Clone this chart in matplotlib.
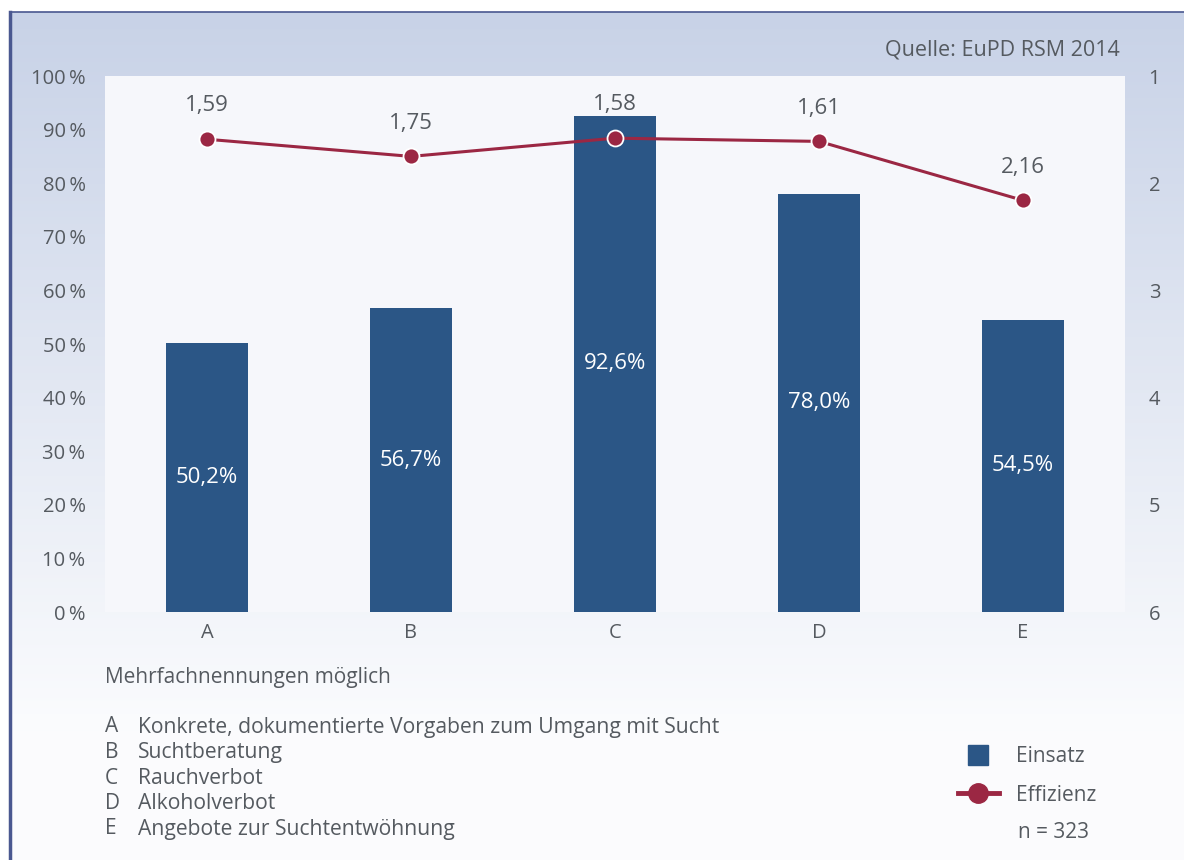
import numpy as np
import matplotlib
matplotlib.use('Agg')
from matplotlib import pyplot as plt
from matplotlib.lines import Line2D

plt.rcParams['font.family'] = ['Open Sans', 'DejaVu Sans']

# Daten
kategorien = ['A', 'B', 'C', 'D', 'E']
einsatz = [50.2, 56.7, 92.6, 78.0, 54.5]          # Prozent
effizienz = [1.59, 1.75, 1.58, 1.61, 2.16]        # Schulnote 1-6
beschreibung = ['Konkrete, dokumentierte Vorgaben zum Umgang mit Sucht',
                'Suchtberatung',
                'Rauchverbot',
                'Alkoholverbot',
                'Angebote zur Suchtentwöhnung']
links_ticks = [0, 10, 20, 30, 40, 50, 60, 70, 80, 90, 100]
rechts_ticks = [1, 2, 3, 4, 5, 6]

blau = '#2b5686'
rot = '#9b2743'
grau = '#555a60'

W, H = 1184, 860
fig = plt.figure(figsize=(W/100, H/100), dpi=100)

# Hintergrund mit Verlauf
bg = fig.add_axes([0, 0, 1, 1])
bg.set_xlim(0, W); bg.set_ylim(H, 0); bg.axis('off')
grad = np.linspace(0, 1, 256).reshape(-1, 1)
top_c = np.array([0.784, 0.824, 0.906])
bot_c = np.array([0.985, 0.988, 0.995])
t = np.clip(grad / 0.85, 0, 1)
img = top_c + (bot_c - top_c) * t[..., None]
bg.imshow(img, extent=[10, W, H, 12], aspect='auto', zorder=0)
bg.plot([10, 10], [12, H], color='#4a5890', lw=2.5, zorder=2)
bg.plot([10, W], [12, 12], color='#4a5890', lw=1.2, zorder=2)

# Hauptdiagramm
ax = fig.add_axes([105/W, 1-612/H, 1020/W, 536/H])
ax.set_facecolor('#f6f7fb')
x = np.arange(len(kategorien))
bars = ax.bar(x, einsatz, width=0.4, color=blau, zorder=2)
ax.set_xlim(-0.5, 4.5)
ax.set_ylim(0, 100)
ax.set_yticks(links_ticks)
ax.set_yticklabels(['%d\u2009%%' % v for v in links_ticks])
ax.set_xticks(x)
ax.set_xticklabels(kategorien)
for s in ax.spines.values():
    s.set_visible(False)
ax.tick_params(length=0, colors=grau, labelsize=14.5)
ax.tick_params(axis='y', pad=14)
ax.tick_params(axis='x', pad=8)

for xi, v in zip(x, einsatz):
    ax.text(xi, v/2, ('%.1f%%' % v).replace('.', ','), ha='center', va='center',
            color='white', fontsize=16, zorder=3)

ax2 = ax.twinx()
ax2.set_ylim(6, 1)
ax2.set_yticks(rechts_ticks)
for s in ax2.spines.values():
    s.set_visible(False)
ax2.tick_params(length=0, colors=grau, labelsize=14.5, pad=17)
line, = ax2.plot(x, effizienz, color=rot, lw=2.2, marker='o', markersize=11.5,
                 markerfacecolor=rot, markeredgecolor='white', markeredgewidth=1.3,
                 zorder=4)
for xi, v in zip(x, effizienz):
    ax2.annotate(('%.2f' % v).replace('.', ','), (xi, v), xytext=(0, 24),
                 textcoords='offset points', ha='center', va='center',
                 color=grau, fontsize=16)

# Texte
fig.text(1120/W, 1-50/H, 'Quelle: EuPD RSM 2014', ha='right', va='center',
         color=grau, fontsize=15.5)
fig.text(105/W, 1-677/H, 'Mehrfachnennungen möglich', ha='left', va='center',
         color=grau, fontsize=15)
for i, (k, b) in enumerate(zip(kategorien, beschreibung)):
    yy = 1 - (727 + i*25.5)/H
    fig.text(105/W, yy, k, ha='left', va='center', color=grau, fontsize=15)
    fig.text(138/W, yy, b, ha='left', va='center', color=grau, fontsize=15.2)

h_einsatz = Line2D([], [], marker='s', linestyle='none', markersize=14,
                   color=blau)
h_eff = Line2D([], [], color=rot, lw=3.5, marker='o', markersize=14,
               markerfacecolor=rot, markeredgecolor=rot)
fig.legend([h_einsatz, h_eff], ['Einsatz', 'Effizienz'], loc='upper left',
           bbox_to_anchor=(958/W, 1-746/H), frameon=False, fontsize=15,
           labelcolor=grau, handlelength=1.95, handletextpad=0.85,
           labelspacing=0.85, borderpad=0, borderaxespad=0)
fig.text(1018/W, 1-832/H, 'n = 323', ha='left', va='center', color=grau, fontsize=15)

fig.savefig('out.png', dpi=100)
